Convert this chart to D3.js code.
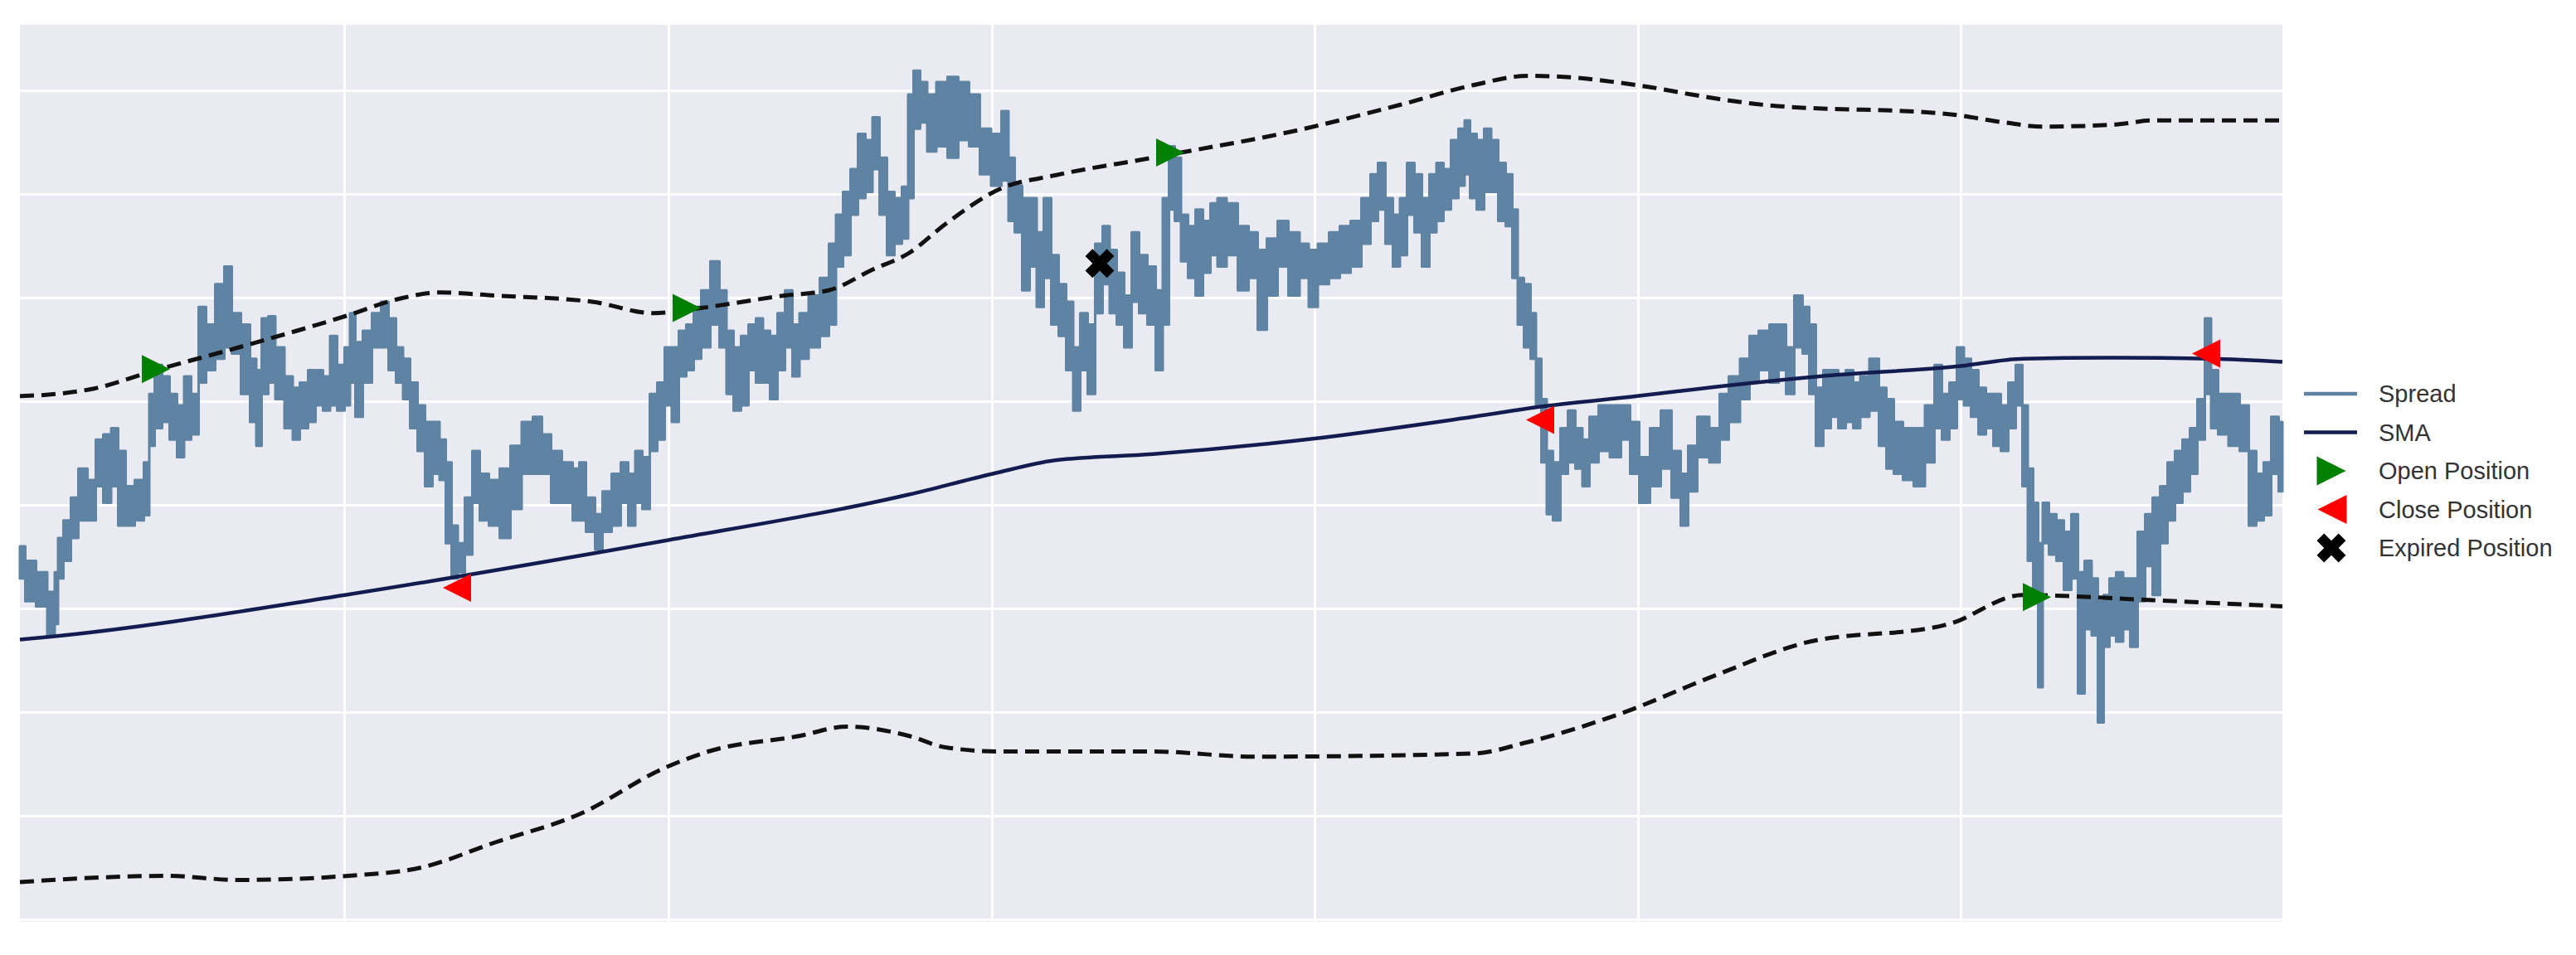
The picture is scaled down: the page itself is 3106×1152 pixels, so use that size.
<!DOCTYPE html>
<html>
<head>
<meta charset="utf-8">
<title>Spread trading chart</title>
<script src="https://cdn.jsdelivr.net/npm/d3@7"></script>
<style>
  body { margin: 0; background: #fff; }
  svg { display: block; }
</style>
</head>
<body>
<script>
// x = observation index, y = spread level (grid lines every 1 unit)
var xTicks = [391, 782, 1172, 1561, 1951, 2340];
var yTicks = [0, 1, 2, 3, 4, 5, 6, 7, 8];

// spread: sampled high / low of the noisy line at each observation
var spreadT = [0,13,26,40,44,48,57,66,75,88,95,106,114,123,132,145,154,158,167,176,
  185,194,202,211,220,229,242,251,260,273,282,288,295,304,312,326,332,343,352,361,
  370,378,387,396,400,409,418,431,440,449,458,466,475,484,493,502,510,517,524,532,
  541,550,559,572,585,598,612,625,634,647,660,673,
  676,689,698,707,720,729,738,746,755,764,773,782,790,799,808,817,826,839,848,856,
  865,874,883,892,900,909,918,927,936,944,958,971,980,988,997,1006,1015,1024,1032,1041,
  1050,1059,1068,1074,1081,1090,1098,1112,1125,1138,1151,1164,1178,1189,1195,1204,1213,1222,1230,1239,
  1248,1257,1266,1274,1283,1292,1301,1310,1318,1327,1336,1345,1354,
  1365,1374,1382,1389,1396,1404,1413,1422,1431,1440,1448,1462,1475,1488,1497,1510,1523,1536,1550,1558,
  1572,1585,1598,1611,1624,1633,1642,1651,1660,1668,1677,1686,1695,1704,1712,1721,1730,1739,1745,1752,
  1761,1770,1778,1787,1796,1803,1809,1818,1825,1831,1838,1844,1853,1862,1871,1880,1888,1897,1910,1924,
  1937,1946,1959,1972,1985,1998,2007,2016,2029,
  2045,2054,2067,2081,2090,2103,2116,2125,2134,2145,2154,2161,2170,2179,2188,2197,2206,2215,2223,2237,
  2246,2255,2264,2277,2290,2304,2313,2322,2331,2340,2348,2357,2366,2375,2384,2393,2402,2411,2418,2424,
  2431,2436,2442,2451,2460,2469,2478,2485,2494,2502,2509,2516,2523,2532,2540,2549,2558,2567,2576,2585,
  2594,2603,2612,2621,2630,2639,2645,2656,2670,2683,2692,2701,2710,2719,2728];

var spreadHi = [3.60,3.46,3.35,3.16,3.35,3.68,3.85,4.07,4.35,4.24,4.63,4.68,4.74,4.52,4.18,4.24,4.41,5.07,5.35,5.24,
  5.07,4.96,5.24,5.07,5.91,5.74,6.13,6.30,5.85,5.74,5.41,5.30,5.80,5.82,5.52,5.24,5.13,5.18,5.30,5.30,
  5.24,5.63,5.35,5.52,5.85,5.57,5.68,5.85,5.96,5.80,5.52,5.41,5.18,4.96,4.80,4.80,4.63,4.41,3.80,3.63,
  4.07,4.52,4.30,4.24,4.35,4.57,4.80,4.85,4.68,4.52,4.41,4.35,
  4.41,4.07,3.91,4.13,4.30,4.41,4.30,4.52,4.46,5.07,5.18,5.52,5.52,5.68,5.74,5.91,6.07,6.35,6.07,5.68,
  5.52,5.63,5.74,5.80,5.68,5.63,5.85,6.07,5.74,5.85,6.02,6.19,6.52,6.80,7.02,7.24,7.58,7.52,7.74,7.35,
  7.02,6.96,7.07,7.96,8.19,8.08,7.96,8.08,8.13,8.08,7.96,7.63,7.58,7.80,7.35,7.08,6.96,6.96,6.63,6.96,
  6.41,6.13,5.96,5.52,5.85,5.74,6.52,6.69,6.46,6.24,6.02,6.63,6.41,
  6.30,6.07,6.96,7.46,7.35,6.80,6.69,6.85,6.74,6.91,6.96,6.91,6.69,6.63,6.46,6.57,6.74,6.63,6.52,6.46,
  6.52,6.63,6.69,6.74,6.96,7.19,7.30,6.96,6.80,6.96,7.30,7.19,6.96,7.19,7.30,7.24,7.52,7.63,7.71,7.58,
  7.52,7.63,7.52,7.30,7.19,6.85,6.19,6.13,5.85,5.41,5.02,4.52,4.41,4.74,4.91,4.74,4.63,4.85,4.96,4.96,
  4.96,4.80,4.46,4.74,4.91,4.52,4.30,4.57,4.85,
  4.74,5.07,5.24,5.41,5.63,5.68,5.74,5.74,5.52,6.02,5.91,5.74,5.13,5.30,5.30,5.24,5.30,5.18,5.24,5.41,
  5.13,5.02,4.80,4.74,4.74,4.96,5.35,5.07,5.18,5.52,5.41,5.30,5.13,5.07,5.07,4.96,5.18,5.35,4.96,4.35,
  4.02,3.63,4.02,3.91,3.85,3.74,3.91,3.35,3.46,3.29,3.07,3.13,3.29,3.35,3.29,3.29,3.74,3.91,4.07,4.18,
  4.41,4.52,4.63,4.74,5.02,5.80,5.30,5.07,5.07,4.96,4.52,4.30,4.41,4.85,4.80];

var spreadLo = [3.29,3.07,3.02,2.74,2.85,3.29,3.46,3.68,3.85,3.85,4.18,4.02,4.18,3.80,3.80,3.85,3.90,4.57,4.74,4.80,
  4.63,4.46,4.63,4.68,5.18,5.30,5.41,5.52,5.46,5.07,4.80,4.57,5.07,5.18,5.02,4.74,4.63,4.74,4.80,4.96,
  4.91,4.96,4.91,4.96,5.18,4.85,5.18,5.52,5.52,5.30,5.18,5.02,4.74,4.52,4.18,4.30,4.24,3.63,3.29,3.35,
  3.52,4.02,3.85,3.80,3.68,3.96,4.30,4.30,4.30,4.02,4.02,3.85,
  3.85,3.74,3.57,3.74,3.80,4.02,3.80,4.02,3.96,4.52,4.63,4.96,4.80,5.24,5.30,5.41,5.52,5.74,5.52,5.07,
  4.91,4.96,5.30,5.18,5.18,5.02,5.30,5.52,5.24,5.41,5.52,5.63,5.74,6.30,6.41,6.80,6.96,7.02,7.24,6.80,
  6.41,6.52,6.57,6.96,7.63,7.69,7.41,7.46,7.35,7.52,7.46,7.19,7.08,7.13,6.74,6.63,6.07,6.30,5.91,6.19,
  5.74,5.63,5.30,4.91,5.30,5.07,5.85,6.13,5.85,5.74,5.52,5.96,5.85,
  5.74,5.30,5.74,6.85,6.74,6.35,6.19,6.02,6.24,6.41,6.30,6.41,6.07,6.19,5.69,6.02,6.30,6.02,6.19,5.91,
  6.13,6.19,6.24,6.30,6.52,6.74,6.85,6.52,6.30,6.41,6.80,6.63,6.30,6.63,6.74,6.85,6.96,7.08,7.19,6.96,
  6.85,7.02,7.02,6.74,6.69,6.19,5.74,5.52,5.41,4.96,4.41,3.91,3.85,4.30,4.41,4.35,4.18,4.41,4.52,4.46,
  4.63,4.30,4.02,4.18,4.35,4.07,3.80,4.13,4.46,
  4.41,4.63,4.80,5.02,5.18,5.30,5.18,5.30,5.07,5.52,5.46,5.07,4.57,4.74,4.85,4.74,4.80,4.74,4.85,4.91,
  4.57,4.35,4.30,4.24,4.18,4.41,4.74,4.63,4.74,5.02,4.96,4.85,4.68,4.74,4.57,4.52,4.74,4.96,4.18,3.46,
  3.07,2.24,3.63,3.52,3.46,3.18,3.29,2.18,2.80,2.74,1.90,2.63,2.74,2.68,2.80,2.63,3.07,3.41,3.13,3.63,
  3.85,4.02,4.13,4.30,4.63,5.07,4.74,4.68,4.57,4.52,3.80,3.85,3.90,4.30,4.13];

// simple moving average
var smaT = [0,40,392,690,782,1072,1173,1248,1366,1561,1752,1836,1950,2046,2170,2340,2415,2527,2643,2728];
var smaV = [2.70,2.73,3.13,3.53,3.66,4.10,4.30,4.43,4.49,4.64,4.85,4.95,5.05,5.14,5.24,5.34,5.41,5.42,5.41,5.38];

// upper / lower bands
var upperT = [0,44,88,164,264,392,458,506,572,690,764,821,922,975,1028,1072,1116,1182,1248,1366,
  1400,1532,1664,1752,1818,1862,1950,2046,2103,2326,2393,2438,2527,2572,2728];
var upperV = [5.05,5.07,5.12,5.30,5.52,5.82,5.99,6.05,6.02,5.96,5.85,5.90,6.02,6.07,6.27,6.43,6.71,7.05,7.18,7.35,
  7.40,7.60,7.86,8.05,8.14,8.13,8.05,7.92,7.86,7.77,7.69,7.65,7.67,7.71,7.71];
var lowerT = [0,176,264,396,484,572,676,777,830,940,997,1072,1116,1182,1366,1488,1752,1818,1928,2046,
  2148,2326,2415,2572,2728];
var lowerV = [0.36,0.42,0.38,0.42,0.50,0.74,1.02,1.46,1.62,1.77,1.86,1.77,1.66,1.62,1.62,1.57,1.60,1.71,1.98,2.36,
  2.66,2.85,3.13,3.08,3.02];

// trade events
var openT = [164, 804, 1387, 2432];
var openV = [5.31, 5.90, 7.40, 3.11];
var closeT = [527, 1833, 2636];
var closeV = [3.20, 4.82, 5.46];
var expiredT = [1302];
var expiredV = [6.33];

var legendLabels = ["Spread", "SMA", "Open Position", "Close Position", "Expired Position"];

var W = 3106, H = 1152,
    plotL = 24, plotR = 2752, plotT = 30, plotB = 1112;

var spreadColor = "#5f83a2", smaColor = "#131c4f";

var svg = d3.select("body").append("svg")
    .attr("width", W)
    .attr("height", H)
    .style("font-family", "'Liberation Sans', Arial, sans-serif");

var x = d3.scaleLinear().domain([0, 2728]).range([plotL, plotR]);
var y = d3.scaleLinear().domain([-0.024, 8.632]).range([plotB, plotT]);

// background
svg.append("rect")
    .attr("x", plotL).attr("y", plotT)
    .attr("width", plotR - plotL).attr("height", plotB - plotT)
    .attr("fill", "#eaeaf2");

// grid lines from the axes, labels hidden
svg.append("g")
    .attr("transform", "translate(0," + plotB + ")")
    .call(d3.axisBottom(x).tickValues(xTicks).tickSize(-(plotB - plotT)).tickFormat(""))
    .call(function(g) { g.select(".domain").remove(); })
    .selectAll("line").attr("stroke", "#fff").attr("stroke-width", 3);

svg.append("g")
    .attr("transform", "translate(" + plotL + ",0)")
    .call(d3.axisLeft(y).tickValues(yTicks).tickSize(-(plotR - plotL)).tickFormat(""))
    .call(function(g) { g.select(".domain").remove(); })
    .selectAll("line").attr("stroke", "#fff").attr("stroke-width", 3);

// spread band
var spread = spreadT.map(function(t, i) { return {t: t, hi: spreadHi[i], lo: spreadLo[i]}; });
var spreadArea = d3.area()
    .x(function(d) { return x(d.t); })
    .y0(function(d) { return y(d.lo); })
    .y1(function(d) { return y(d.hi); })
    .curve(d3.curveStep);

svg.append("path")
    .datum(spread)
    .attr("d", spreadArea)
    .attr("fill", spreadColor)
    .attr("stroke", spreadColor)
    .attr("stroke-width", 3)
    .attr("stroke-linejoin", "round");

function series(ts, vs) {
  return ts.map(function(t, i) { return {t: t, v: vs[i]}; });
}

var line = d3.line()
    .x(function(d) { return x(d.t); })
    .y(function(d) { return y(d.v); })
    .curve(d3.curveMonotoneX);

svg.append("path")
    .datum(series(smaT, smaV))
    .attr("d", line)
    .attr("fill", "none")
    .attr("stroke", smaColor)
    .attr("stroke-width", 4.5);

[series(upperT, upperV), series(lowerT, lowerV)].forEach(function(band) {
  svg.append("path")
      .datum(band)
      .attr("d", line)
      .attr("fill", "none")
      .attr("stroke", "#111")
      .attr("stroke-width", 5)
      .attr("stroke-dasharray", "17,9");
});

// markers
function triangle(h, dir) {
  return "M" + (dir * h) + ",0L" + (-dir * h) + "," + (-h) + "L" + (-dir * h) + "," + h + "Z";
}
var crossPath = d3.symbol().type(d3.symbolCross).size(760)();

svg.selectAll(".open")
    .data(series(openT, openV))
    .enter().append("path")
      .attr("class", "open")
      .attr("transform", function(d) { return "translate(" + x(d.t) + "," + y(d.v) + ")"; })
      .attr("d", triangle(17, 1))
      .attr("fill", "#008000");

svg.selectAll(".close")
    .data(series(closeT, closeV))
    .enter().append("path")
      .attr("class", "close")
      .attr("transform", function(d) { return "translate(" + x(d.t) + "," + y(d.v) + ")"; })
      .attr("d", triangle(17, -1))
      .attr("fill", "#ff0000");

svg.selectAll(".expired")
    .data(series(expiredT, expiredV))
    .enter().append("path")
      .attr("class", "expired")
      .attr("transform", function(d) { return "translate(" + x(d.t) + "," + y(d.v) + ") rotate(45)"; })
      .attr("d", crossPath)
      .attr("fill", "#000");

// legend
var legend = svg.append("g").attr("transform", "translate(2778,475)");
var rowH = 46.5;

legendLabels.forEach(function(label, i) {
  var g = legend.append("g").attr("transform", "translate(0," + (i * rowH) + ")");
  if (i === 0 || i === 1) {
    g.append("line")
        .attr("x1", 0).attr("x2", 64)
        .attr("stroke", i === 0 ? spreadColor : smaColor)
        .attr("stroke-width", 4.5);
  } else if (i === 2) {
    g.append("path").attr("transform", "translate(33,0)").attr("d", triangle(17.5, 1)).attr("fill", "#008000");
  } else if (i === 3) {
    g.append("path").attr("transform", "translate(34,0)").attr("d", triangle(17.5, -1)).attr("fill", "#ff0000");
  } else {
    g.append("path").attr("transform", "translate(33,0) rotate(45)").attr("d", crossPath).attr("fill", "#000");
  }
  g.append("text")
      .attr("x", 90)
      .attr("dy", "0.35em")
      .attr("font-size", 29)
      .attr("fill", "#333")
      .text(label);
});
</script>
</body>
</html>
